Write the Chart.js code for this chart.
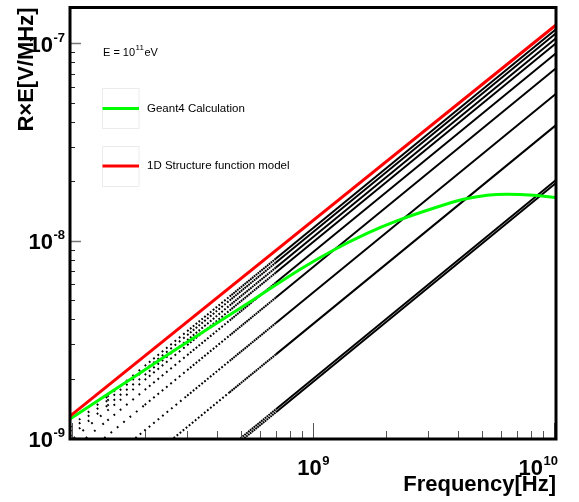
<!DOCTYPE html>
<html><head><meta charset="utf-8">
<script src="https://cdn.jsdelivr.net/npm/chart.js@4/dist/chart.umd.min.js"></script>
<style>html,body{margin:0;padding:0;background:#fff;}canvas{display:block;}</style>
</head><body>
<canvas id="c" width="579" height="502"></canvas>
<script>
// ---- axis / tick labels ----
const xTickValues = [1e9, 1e10];
const xTickExps = ['9', '10'];
const yTickValues = [1e-9, 1e-8, 1e-7];
const yTickExps = ['-9', '-8', '-7'];
const xTitle = 'Frequency[Hz]';
const yTitle = 'R\u00D7E[V/MHz]';
const legendLabels = ['Geant4 Calculation', '1D Structure function model'];
const energyText = ['E = 10', '11', 'eV'];

// ---- series (frequency in Hz, value in V/MHz) ----
const redFreq = [0.98e8, 1.015e10];
const redVal  = [1.292e-9, 1.238e-7];

const greenFreq = [0.98e8, 1.6e8, 2.6e8, 5.75e8, 8.8e8, 1.21e9, 1.67e9, 2.22e9, 3.15e9, 4.2e9, 5.25e9, 6.35e9, 8.2e9, 1.015e10];
const greenVal  = [1.25e-9, 1.85e-9, 2.74e-9, 5.1e-9, 7.15e-9, 8.95e-9, 1.09e-8, 1.26e-8, 1.46e-8, 1.62e-8, 1.70e-8, 1.72e-8, 1.70e-8, 1.655e-8];

const black1F = [0.98e8, 1.4e8, 2e8, 3e8, 4.5e8, 7e8, 1.015e10];
const black1V = [1.136e-9, 1.623e-9, 2.319e-9, 3.479e-9, 5.218e-9, 8.117e-9, 1.177e-7];
const black2F = [0.98e8, 1.4e8, 2e8, 3e8, 4.5e8, 7e8, 1.015e10];
const black2V = [1.085e-9, 1.550e-9, 2.215e-9, 3.322e-9, 4.983e-9, 7.752e-9, 1.124e-7];
const black3F = [0.98e8, 1.4e8, 2e8, 3e8, 4.5e8, 7e8, 1.015e10];
const black3V = [1.023e-9, 1.462e-9, 2.089e-9, 3.133e-9, 4.700e-9, 7.310e-9, 1.060e-7];
const black4F = [1.015e8, 1.4e8, 2e8, 3e8, 4.5e8, 7e8, 1.015e10];
const black4V = [1.0e-9, 1.379e-9, 1.970e-9, 2.956e-9, 4.434e-9, 6.897e-9, 1.0e-7];
const black5F = [1.140e8, 1.4e8, 2e8, 3e8, 4.5e8, 7e8, 1.015e10];
const black5V = [1.0e-9, 1.228e-9, 1.754e-9, 2.631e-9, 3.946e-9, 6.138e-9, 8.9e-8];
const black6F = [1.359e8, 2e8, 3e8, 4.5e8, 7e8, 1.015e10];
const black6V = [1.0e-9, 1.472e-9, 2.208e-9, 3.312e-9, 5.152e-9, 7.47e-8];
const black7F = [1.829e8, 3e8, 4.5e8, 7e8, 1.015e10];
const black7V = [1.0e-9, 1.640e-9, 2.461e-9, 3.828e-9, 5.55e-8];
const black8F = [2.636e8, 4.5e8, 7e8, 1.015e10];
const black8V = [1.0e-9, 1.707e-9, 2.655e-9, 3.85e-8];
const black9F = [5.0e8, 7e8, 1.015e10];
const black9V = [1.0e-9, 1.4e-9, 2.03e-8];
const black10F = [5.179e8, 7e8, 1.015e10];
const black10V = [1.0e-9, 1.352e-9, 1.96e-8];

const pts = (f, v) => f.map((x, i) => ({x: x, y: v[i]}));

const blackSets = [
  [black1F, black1V], [black2F, black2V], [black3F, black3V], [black4F, black4V], [black5F, black5V],
  [black6F, black6V], [black7F, black7V], [black8F, black8V], [black9F, black9V], [black10F, black10V]
];

// dotted look where sampled points are sparse on the log axis
function dotDash(ctx) {
  const fm = Math.sqrt(ctx.p0.parsed.x * ctx.p1.parsed.x);
  const sp = 1.354e9 / fm;
  if (sp < 2.2) return [];
  return [1.8, Math.max(sp - 1.8, 0.6)];
}

const datasets = [
  {label: legendLabels[1], data: pts(redFreq, redVal), borderColor: '#ff0000', borderWidth: 3, pointRadius: 0, tension: 0},
  {label: legendLabels[0], data: pts(greenFreq, greenVal), borderColor: '#00ff00', borderWidth: 3, pointRadius: 0, cubicInterpolationMode: 'monotone'}
];
blackSets.forEach((s, i) => datasets.push({
  label: 'model ' + (i + 1), data: pts(s[0], s[1]), borderColor: '#000000', borderWidth: 2,
  pointRadius: 0, tension: 0, borderCapStyle: 'butt', segment: {borderDash: dotDash}
}));

const FONT = '"Liberation Sans", Arial, Helvetica, sans-serif';

function drawPow(ctx, base, exp, x, baseline, align, baseSize, expSize, rise) {
  ctx.font = 'bold ' + baseSize + 'px ' + FONT;
  const wb = ctx.measureText(base).width;
  ctx.font = 'bold ' + expSize + 'px ' + FONT;
  const we = ctx.measureText(exp).width;
  const total = wb + we + 0.5;
  let start = x;
  if (align === 'center') start = x - total / 2;
  else if (align === 'right') start = x - total;
  if (start + total > 558) start = 558 - total;
  ctx.textAlign = 'left';
  ctx.textBaseline = 'alphabetic';
  ctx.font = 'bold ' + baseSize + 'px ' + FONT;
  ctx.fillText(base, start, baseline);
  ctx.font = 'bold ' + expSize + 'px ' + FONT;
  ctx.fillText(exp, start + wb + 0.5, baseline - rise);
}

const rootAxes = {
  id: 'rootAxes',
  beforeDraw(chart) {
    const c = chart.ctx;
    c.save(); c.fillStyle = '#ffffff'; c.fillRect(0, 0, chart.width, chart.height); c.restore();
  },
  afterDraw(chart) {
    const c = chart.ctx, a = chart.chartArea, xs = chart.scales.x, ys = chart.scales.y;
    c.save();
    // x ticks (inside, upward)
    c.lineWidth = 1;
    c.strokeStyle = '#555';
    [8, 9].forEach(d => {
      for (let m = 1; m <= 9; m++) {
        const v = m * Math.pow(10, d);
        if (v < xs.min || v > xs.max) continue;
        const px = Math.round(xs.getPixelForValue(v)) + 0.5;
        const len = (m === 1) ? 16 : 8;
        c.beginPath(); c.moveTo(px, a.bottom); c.lineTo(px, a.bottom - len); c.stroke();
      }
    });
    {
      const px = Math.round(xs.getPixelForValue(1e10)) + 0.5;
      if (1e10 <= xs.max) { c.beginPath(); c.moveTo(px, a.bottom); c.lineTo(px, a.bottom - 16); c.stroke(); }
    }
    // y ticks (inside, rightward)
    [-9, -8, -7].forEach(d => {
      for (let m = 1; m <= 9; m++) {
        const v = m * Math.pow(10, d);
        if (v < ys.min || v > ys.max) continue;
        const py = Math.round(ys.getPixelForValue(v)) + 0.5;
        const len = (m === 1) ? 11 : 5;
        c.strokeStyle = (m === 1) ? '#777' : '#222';
        c.lineWidth = (m === 1) ? 1.5 : 1;
        c.beginPath(); c.moveTo(a.left, py); c.lineTo(a.left + len, py); c.stroke();
      }
    });
    // frame
    c.lineWidth = 3;
    c.strokeStyle = '#000';
    c.strokeRect(a.left, a.top, a.right - a.left, a.bottom - a.top);

    // tick labels
    c.fillStyle = '#000';
    xTickValues.forEach((v, i) => {
      const px = xs.getPixelForValue(v);
      drawPow(c, '10', xTickExps[i], px, 475, 'center', 22, 13, 10);
    });
    yTickValues.forEach((v, i) => {
      const py = ys.getPixelForValue(v);
      drawPow(c, '10', yTickExps[i], 65, py + 8.5, 'right', 22, 13, 10);
    });

    // axis titles
    c.font = 'bold 22px ' + FONT;
    c.textAlign = 'right';
    c.textBaseline = 'alphabetic';
    c.fillText(xTitle, a.right, 491);
    c.save();
    c.translate(32.5, a.top);
    c.rotate(-Math.PI / 2);
    c.textAlign = 'right';
    c.fillText(yTitle, 0, 0);
    c.restore();

    // energy annotation
    c.textAlign = 'left';
    c.font = '11px ' + FONT;
    let ex = 103;
    c.fillText(energyText[0], ex, 55.5);
    ex += c.measureText(energyText[0]).width + 0.5;
    c.font = '8px ' + FONT;
    c.fillText(energyText[1], ex, 50);
    ex += c.measureText(energyText[1]).width + 0.5;
    c.font = '11px ' + FONT;
    c.fillText(energyText[2], ex, 55.5);

    // legend
    const entries = [
      {y: 108.5, color: '#00ff00', text: legendLabels[0], boxTop: 88.5},
      {y: 166, color: '#ff0000', text: legendLabels[1], boxTop: 146.5}
    ];
    entries.forEach(e => {
      c.lineWidth = 1;
      c.strokeStyle = '#ececec';
      c.strokeRect(102.5, e.boxTop, 36.5, 40);
      c.lineWidth = 3;
      c.strokeStyle = e.color;
      c.beginPath(); c.moveTo(102.5, e.y); c.lineTo(139, e.y); c.stroke();
      c.fillStyle = '#000';
      c.font = '11.5px ' + FONT;
      c.textBaseline = 'middle';
      c.fillText(e.text, 147, e.y);
    });
    c.restore();
  }
};

new Chart(document.getElementById('c'), {
  type: 'line',
  data: {datasets: datasets},
  options: {
    responsive: false,
    animation: false,
    devicePixelRatio: 1,
    layout: {padding: {left: 70, right: 23, top: 7.5, bottom: 63}},
    plugins: {legend: {display: false}, tooltip: {enabled: false}},
    scales: {
      x: {type: 'logarithmic', min: 0.98e8, max: 1.015e10, display: false},
      y: {type: 'logarithmic', min: 0.9896e-9, max: 1.518e-7, display: false}
    }
  },
  plugins: [rootAxes]
});
</script>
</body></html>
